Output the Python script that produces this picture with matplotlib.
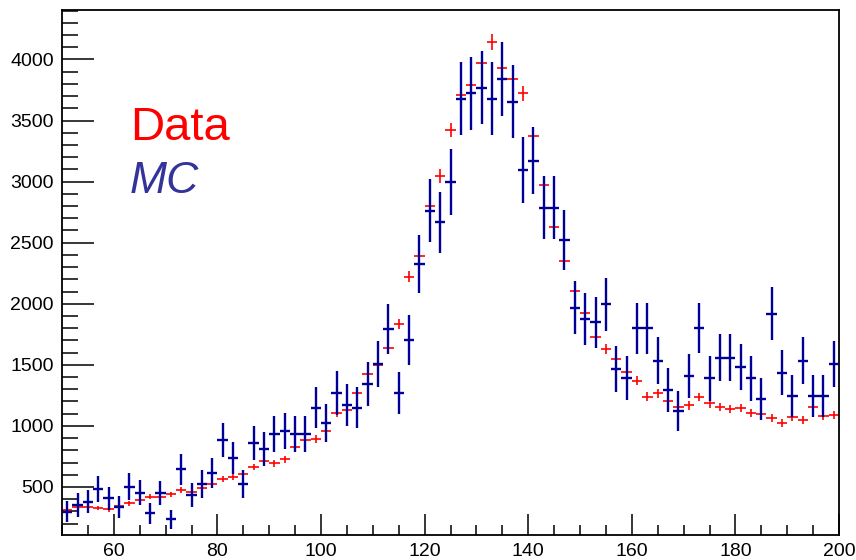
import numpy as np
import matplotlib
matplotlib.use("Agg")
import matplotlib.pyplot as plt
from matplotlib.ticker import MultipleLocator

# Histogram binning: 75 bins of width 2 from 50 to 200
bin_lo = 50
bin_hi = 200
bin_width = 2
bin_centers = np.arange(bin_lo + bin_width / 2, bin_hi, bin_width)

# Measured counts per bin
data_counts = [
    312, 334, 334, 330, 317, 344, 366, 393, 420, 415,
    440, 475, 456, 494, 525, 565, 579, 604, 661, 710,
    694, 727, 825, 885, 893, 961, 1108, 1130, 1272, 1423,
    1499, 1640, 1835, 2222, 2391, 2803, 3046, 3423, 3712, 3791,
    3969, 4141, 3933, 3838, 3723, 3376, 2975, 2631, 2348, 2107,
    1922, 1730, 1627, 1545, 1444, 1370, 1239, 1267, 1207, 1157,
    1168, 1236, 1185, 1155, 1136, 1144, 1108, 1095, 1065, 1021,
    1075, 1046, 1152, 1084, 1089,
]

# Simulated counts per bin and their uncertainties
mc_counts = [
    297, 352, 380, 481, 407, 334, 502, 453, 285, 453,
    235, 645, 434, 525, 617, 885, 740, 525, 863, 811,
    934, 958, 934, 934, 1149, 1026, 1272, 1171, 1149, 1343,
    1507, 1794, 1272, 1703, 2326, 2762, 2667, 3000, 3677, 3723,
    3769, 3677, 3843, 3655, 3095, 3172, 2787, 2787, 2522, 1968,
    1873, 1848, 1996, 1463, 1392, 1799, 1799, 1534, 1294, 1125,
    1411, 1799, 1390, 1559, 1559, 1485, 1390, 1223, 1919, 1436,
    1247, 1534, 1247, 1247, 1507,
]
mc_errors = [
    85, 95, 95, 106, 95, 90, 109, 102, 85, 100,
    75, 127, 100, 116, 123, 142, 132, 112, 140, 137,
    150, 150, 150, 150, 167, 157, 180, 170, 167, 178,
    191, 205, 173, 202, 236, 259, 252, 270, 299, 300,
    301, 299, 304, 296, 273, 274, 259, 259, 245, 216,
    212, 210, 218, 188, 183, 210, 210, 192, 177, 164,
    181, 206, 183, 194, 194, 188, 183, 171, 216, 186,
    171, 191, 171, 171, 188,
]

data_counts = np.array(data_counts, dtype=float)
mc_counts = np.array(mc_counts, dtype=float)
mc_errors = np.array(mc_errors, dtype=float)
data_errors = np.sqrt(data_counts)  # Poisson uncertainty on the counts

plt.rcParams["font.family"] = ["Liberation Sans", "DejaVu Sans"]

fig = plt.figure(figsize=(8.56, 5.60), dpi=100)
ax = fig.add_axes([62 / 856, 25 / 560, 777 / 856, 525 / 560])

red = "#ff0000"
navy = "#000099"

ax.errorbar(bin_centers, data_counts, xerr=bin_width / 2, yerr=data_errors,
            fmt="none", ecolor=red, elinewidth=1.2, capsize=0, zorder=2)
ax.errorbar(bin_centers, mc_counts, xerr=bin_width / 2, yerr=mc_errors,
            fmt="none", ecolor=navy, elinewidth=1.7, capsize=0, zorder=3)

ax.set_xlim(bin_lo, bin_hi)
ax.set_ylim(107, 4405)

ax.xaxis.set_major_locator(MultipleLocator(20))
ax.xaxis.set_minor_locator(MultipleLocator(5))
ax.yaxis.set_major_locator(MultipleLocator(500))
ax.yaxis.set_minor_locator(MultipleLocator(100))

ax.tick_params(axis="x", which="major", direction="in", length=15, width=1.1,
               labelsize=14, pad=6, top=False)
ax.tick_params(axis="x", which="minor", direction="in", length=7.5, width=1.1, top=False)
ax.tick_params(axis="y", which="major", direction="in", length=23, width=1.1,
               labelsize=14, pad=6, right=False)
ax.tick_params(axis="y", which="minor", direction="in", length=11.5, width=1.1, right=False)

for side in ax.spines.values():
    side.set_linewidth(1.3)
    side.set_color("black")

# Legend-like labels
ax.text(63.1, 3341, "Data", color=red, fontsize=34, va="baseline", ha="left")
ax.text(63.1, 2907, "MC", color="#333399", fontsize=32, va="baseline", ha="left",
        fontstyle="italic")

fig.savefig("out.png", dpi=100)
